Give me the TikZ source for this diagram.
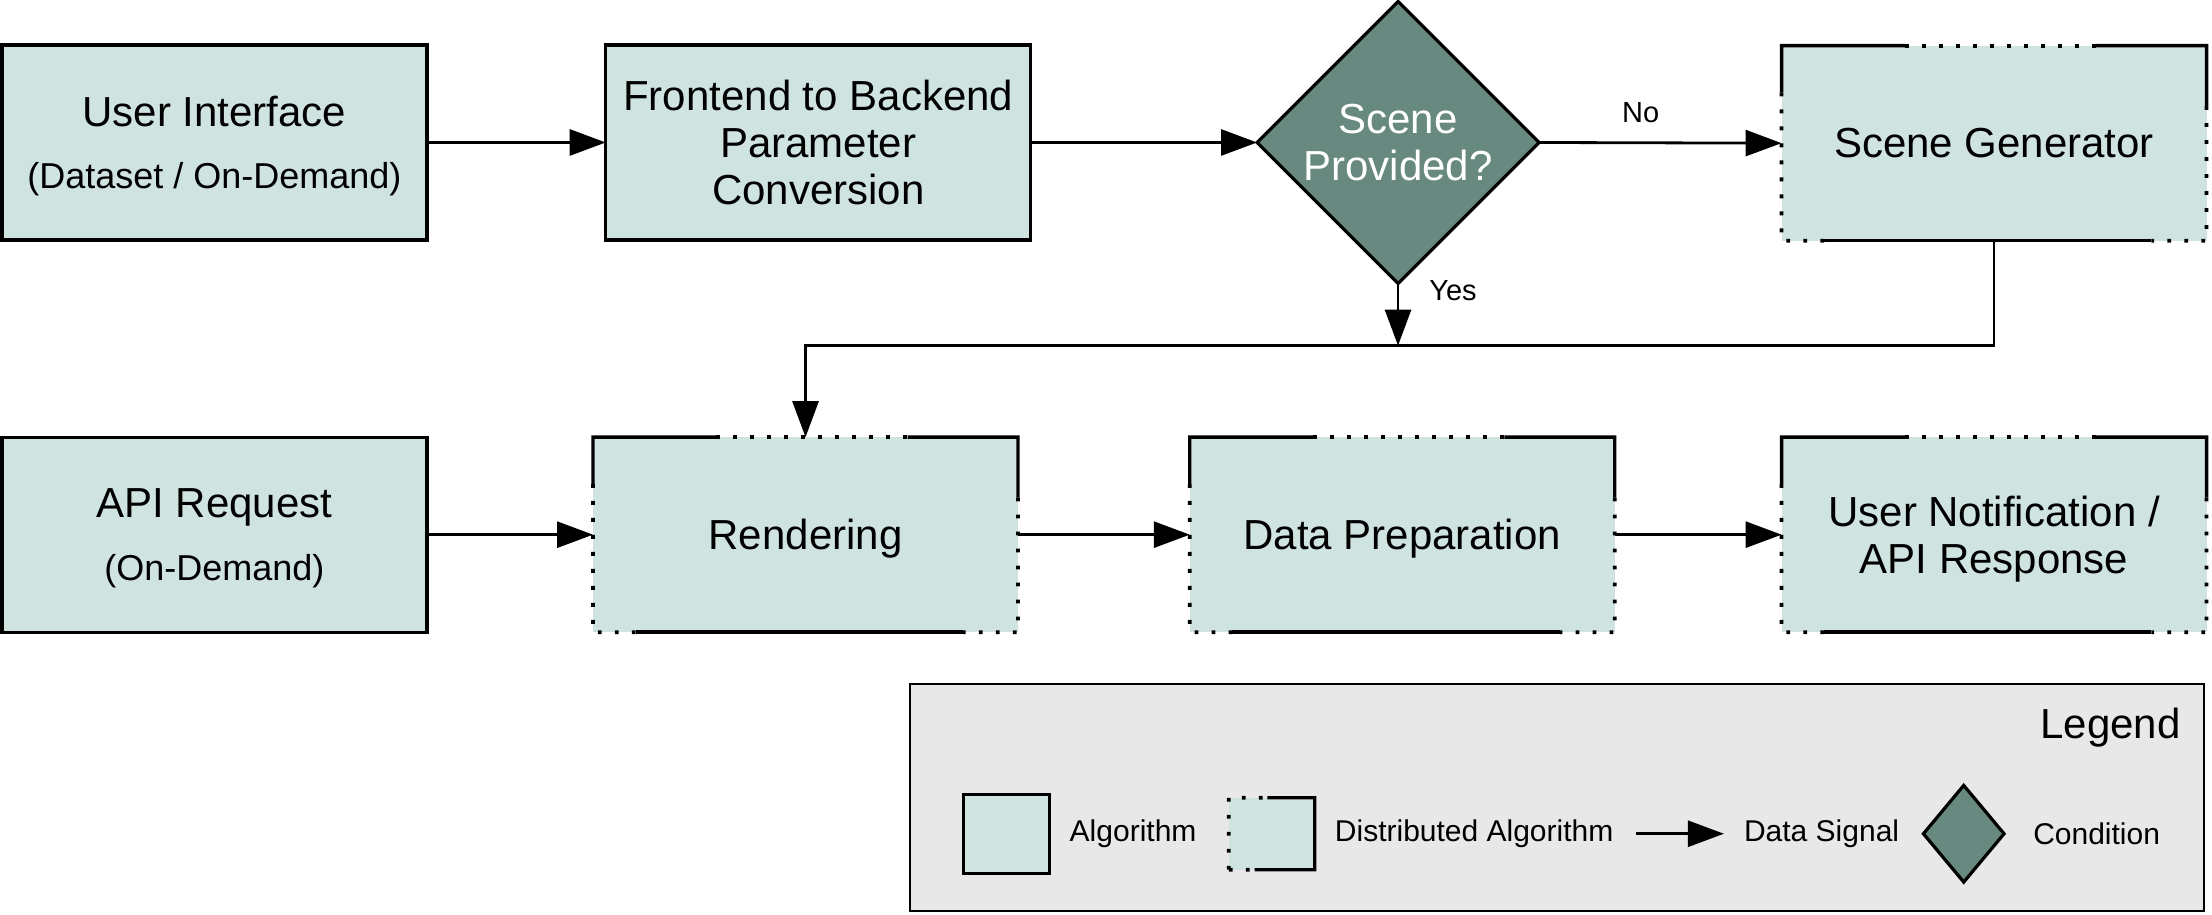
\documentclass[tikz,border=0pt]{standalone}
\usepackage{fontspec}
\setmainfont{Liberation Sans}
\usetikzlibrary{shapes.geometric,arrows.meta,calc}
\definecolor{boxfill}{HTML}{CFE3E1}
\definecolor{condfill}{HTML}{678980}
\definecolor{legfill}{HTML}{E8E8E8}
\tikzset{
 mainfont/.style={font=\fontsize{21}{23.3}\selectfont},
 algo/.style={draw, line width=1.6pt, fill=boxfill, minimum width=212.5pt, minimum height=97.5pt, inner sep=0pt, outer sep=0pt, align=center, text depth=0pt, mainfont},
 dalgo/.style={fill=boxfill, minimum width=212.5pt, minimum height=97.5pt, inner sep=0pt, outer sep=0pt, align=center, text depth=0pt, mainfont},
 cond/.style={diamond, draw, line width=1.6pt, fill=condfill, text=white, minimum width=141pt, minimum height=141pt, inner sep=0pt, outer sep=0pt, align=center, mainfont},
 arr/.style={-{Triangle[length=18pt,width=13pt]}, line width=1.4pt},
 solidb/.style={line width=1.7pt},
 dotb/.style={line width=1.9pt, dash pattern=on 1.9pt off 6.6pt},
 lbl/.style={font=\fontsize{14.5}{16}\selectfont, inner sep=0pt},
 legtxt/.style={font=\fontsize{15}{17}\selectfont, anchor=west, inner sep=0pt},
}
\newcommand\subtxt{\fontsize{18}{20}\selectfont}
\newcommand\distborder[1]{%
 \draw[solidb] ($(#1.north west)!0.24!(#1.south west)$) -- (#1.north west) -- ($(#1.north west)!0.29!(#1.north east)$);
 \draw[dotb] ($(#1.north west)!0.29!(#1.north east)$) -- ($(#1.north west)!0.74!(#1.north east)$);
 \draw[solidb] ($(#1.north west)!0.74!(#1.north east)$) -- (#1.north east) -- ($(#1.north east)!0.31!(#1.south east)$);
 \draw[dotb] ($(#1.north east)!0.31!(#1.south east)$) -- (#1.south east) -- ($(#1.south west)!0.87!(#1.south east)$);
 \draw[solidb] ($(#1.south west)!0.10!(#1.south east)$) -- ($(#1.south west)!0.87!(#1.south east)$);
 \draw[dotb] ($(#1.north west)!0.24!(#1.south west)$) -- (#1.south west) -- ($(#1.south west)!0.10!(#1.south east)$);
}
\begin{document}
\begin{tikzpicture}[x=0.7054pt, y=-0.7054pt]
\useasboundingbox (0,0) rectangle (1568,648);

% top row
\node[algo] (UI) at (152,101) {User Interface\\[8pt]\subtxt (Dataset / On-Demand)};
\node[algo, text depth=] (FE) at (580,101) {Frontend to Backend\\Parameter\\Conversion};
\node[cond] (D) at (991,101) {Scene\\Provided?};
\node[dalgo] (SG) at (1413.5,101.5) {Scene Generator};
\distborder{SG}

% bottom row
\node[algo] (API) at (152,379) {API Request\\[8pt]\subtxt (On-Demand)};
\node[dalgo] (R) at (571,379) {Rendering};
\distborder{R}
\node[dalgo] (DP) at (994,379) {Data Preparation};
\distborder{DP}
\node[dalgo] (UN) at (1413.5,379) {User Notification /\\API Response};
\distborder{UN}

% connectors
\draw[arr] (UI.east) -- (FE.west);
\draw[arr] (FE.east) -- (D.west);
\draw[arr] (D.east) -- (SG.west);
\node[lbl] (no) at (1163,80) {No};
\coordinate (jr) at (571,245);
\coordinate (jy) at (991,245);
\draw[arr] (SG.south) |- (jr) -- (R.north);
\draw[arr] (D.south) -- (jy);
\node[lbl] (yes) at (1030,206) {Yes};
\draw[arr] (API.east) -- (R.west);
\draw[arr] (R.east) -- (DP.west);
\draw[arr] (DP.east) -- (UN.west);

% legend
\node[draw, line width=1pt, fill=legfill, minimum width=646.8pt, minimum height=113.6pt, inner sep=0pt] (leg) at (1103.5,565.5) {};
\node[mainfont, anchor=east, inner sep=0pt] (legt) at (1546,516) {Legend};
\node[draw, line width=1.6pt, fill=boxfill, minimum width=43pt, minimum height=39.5pt, inner sep=0pt] (LA) at (713.5,591) {};
\node[legtxt] (LAt) at (758,591) {Algorithm};
\node[fill=boxfill, minimum width=43pt, minimum height=36pt, inner sep=0pt, outer sep=0pt] (LD) at (901.5,591) {};
\draw[dotb] (LD.south west) -- (LD.north west) -- ($(LD.north west)!0.45!(LD.north east)$);
\draw[solidb] ($(LD.north west)!0.45!(LD.north east)$) -- (LD.north east) -- (LD.south east) -- ($(LD.south west)!0.3!(LD.south east)$);
\draw[dotb] (LD.south west) -- ($(LD.south west)!0.3!(LD.south east)$);
\node[legtxt] (LDt) at (946,591) {Distributed Algorithm};
\coordinate (la1) at (1160,591);
\coordinate (la2) at (1222,591);
\draw[arr] (la1) -- (la2);
\node[legtxt] (LSt) at (1236,591) {Data Signal};
\node[diamond, draw, line width=1.6pt, fill=condfill, minimum width=41pt, minimum height=49pt, inner sep=0pt] (LC) at (1392,591) {};
\node[legtxt] (LCt) at (1441,591) {Condition};
\end{tikzpicture}
\end{document}
